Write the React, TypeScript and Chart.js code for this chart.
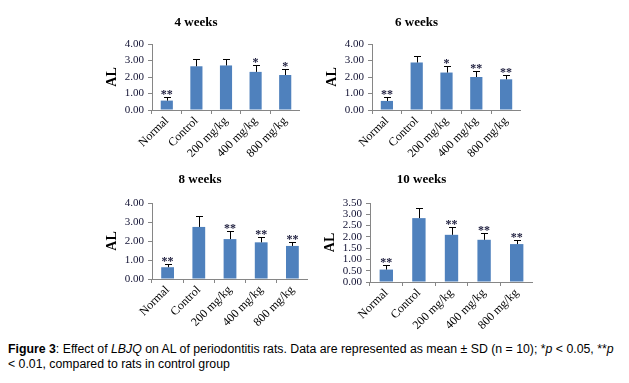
import React, { useEffect, useRef } from "react";
import { Chart, registerables } from "chart.js";

Chart.register(...registerables);

const categories = ["Normal", "Control", "200 mg/kg", "400 mg/kg", "800 mg/kg"];

const titles = ["4 weeks", "6 weeks", "8 weeks", "10 weeks"];

const means4 = [0.57, 2.65, 2.70, 2.31, 2.12];
const sd4 = [0.24, 0.46, 0.41, 0.40, 0.38];
const stars4 = ["**", "", "", "*", "*"];

const means6 = [0.55, 2.88, 2.27, 2.0, 1.86];
const sd6 = [0.22, 0.41, 0.38, 0.35, 0.27];
const stars6 = ["**", "", "*", "**", "**"];

const means8 = [0.62, 2.74, 2.1, 1.93, 1.74];
const sd8 = [0.16, 0.6, 0.44, 0.26, 0.23];
const stars8 = ["**", "", "**", "**", "**"];

const means10 = [0.55, 2.83, 2.09, 1.87, 1.68];
const sd10 = [0.2, 0.43, 0.33, 0.28, 0.18];
const stars10 = ["**", "", "**", "**", "**"];

const yTicksA = [0, 1, 2, 3, 4];
const yTicksB = [0, 0.5, 1, 1.5, 2, 2.5, 3, 3.5];
const yTicks = [yTicksA, yTicksA, yTicksA, yTicksB];

const caption1 = "Effect of ";
const captionDrug = "LBJQ";
const caption2 = " on AL of periodontitis rats. Data are represented as mean ± SD (n = 10); *";
const caption3 = " < 0.05, **";
const caption4 = "< 0.01, compared to rats in control group";

const SERIF = "'Liberation Serif', 'Times New Roman', serif";

type PanelGeom = { left: number; top: number; width: number; chartTop: number; chartBottom: number };

const geoms: PanelGeom[] = [
  { left: 92, top: 10, width: 208, chartTop: 44, chartBottom: 110 },
  { left: 312, top: 10, width: 209, chartTop: 44, chartBottom: 110 },
  { left: 92, top: 167, width: 216, chartTop: 203, chartBottom: 279 },
  { left: 310, top: 167, width: 223, chartTop: 203, chartBottom: 282 },
];

const Y_AXIS_W = 60;
const X_AXIS_H = 56;

const errorBarPlugin = {
  id: "errorBars",
  afterDatasetsDraw(chart: any) {
    const opts = chart.options.plugins.errorBars || {};
    const sds: number[] = opts.sd || [];
    const stars: string[] = opts.stars || [];
    const meta = chart.getDatasetMeta(0);
    const yScale = chart.scales.y;
    const ctx = chart.ctx;
    const data = chart.data.datasets[0].data as number[];
    ctx.save();
    meta.data.forEach((bar: any, i: number) => {
      const v = data[i];
      const yTop = yScale.getPixelForValue(v + sds[i]);
      const yBar = yScale.getPixelForValue(v);
      const x = Math.round(bar.x) + 0.5;
      ctx.strokeStyle = "#000";
      ctx.lineWidth = 1;
      ctx.beginPath();
      ctx.moveTo(x, yBar);
      ctx.lineTo(x, Math.round(yTop) + 0.5);
      ctx.moveTo(x - 3.5, Math.round(yTop) + 0.5);
      ctx.lineTo(x + 3.5, Math.round(yTop) + 0.5);
      ctx.stroke();
      if (stars[i]) {
        ctx.fillStyle = "#1c1c3c";
        ctx.font = "bold 12px " + SERIF;
        ctx.textAlign = "center";
        ctx.textBaseline = "alphabetic";
        ctx.fillText(stars[i], bar.x, yTop + 1);
      }
    });
    ctx.restore();
  },
};

function Panel({ idx, means, sd, stars }: { idx: number; means: number[]; sd: number[]; stars: string[] }) {
  const ref = useRef<HTMLCanvasElement>(null);
  const g = geoms[idx];
  const height = g.chartBottom - g.top + X_AXIS_H;
  useEffect(() => {
    if (!ref.current) return;
    const titleFont = 13;
    const titleLine = titleFont * 1.2;
    const chartTopInCanvas = g.chartTop - g.top;
    const padTop = 5;
    const padBottom = chartTopInCanvas - padTop - titleLine;
    const tickVals = yTicks[idx];
    const chart = new Chart(ref.current, {
      type: "bar",
      data: {
        labels: categories,
        datasets: [
          {
            data: means,
            backgroundColor: "#4F81BD",
            borderWidth: 0,
            barPercentage: 0.41,
            categoryPercentage: 1,
          },
        ],
      },
      options: {
        responsive: false,
        animation: false,
        layout: { padding: { left: 0, right: 0, top: 0, bottom: 0 } },
        plugins: {
          legend: { display: false },
          tooltip: { enabled: false },
          title: {
            display: true,
            text: titles[idx],
            color: "#000",
            font: { family: SERIF, size: titleFont, weight: "bold" },
            padding: { top: padTop, bottom: padBottom },
          },
          errorBars: { sd, stars },
        } as any,
        scales: {
          x: {
            offset: true,
            grid: {
              display: true,
              offset: true,
              drawOnChartArea: false,
              drawTicks: true,
              tickLength: 4,
              color: "#868686",
            },
            border: { display: true, color: "#868686" },
            ticks: {
              minRotation: 45,
              maxRotation: 45,
              autoSkip: false,
              padding: 0,
              color: "#000",
              font: { family: SERIF, size: 12 },
            },
            afterFit: (s: any) => {
              s.height = X_AXIS_H;
            },
          },
          y: {
            min: 0,
            max: tickVals[tickVals.length - 1],
            grid: {
              display: true,
              drawOnChartArea: false,
              drawTicks: true,
              tickLength: 4,
              color: "#868686",
            },
            border: { display: true, color: "#868686" },
            afterBuildTicks: (s: any) => {
              s.ticks = tickVals.map((v) => ({ value: v }));
            },
            ticks: {
              autoSkip: false,
              padding: 4,
              color: "#111133",
              font: { family: SERIF, size: 11 },
              callback: (v: any) => Number(v).toFixed(2),
            },
            title: {
              display: true,
              text: "AL",
              color: "#000",
              font: { family: SERIF, size: 14, weight: "bold" },
              padding: { top: 12, bottom: 0 },
            },
            afterFit: (s: any) => {
              s.width = Y_AXIS_W;
            },
          },
        },
      },
      plugins: [errorBarPlugin],
    });
    return () => chart.destroy();
  }, []);
  return (
    <canvas
      ref={ref}
      width={g.width}
      height={height}
      style={{ position: "absolute", left: g.left, top: g.top, width: g.width, height }}
    />
  );
}

export default function App() {
  return (
    <div
      style={{
        position: "fixed",
        left: 0,
        top: 0,
        width: 629,
        height: 383,
        background: "#fff",
        overflow: "hidden",
      }}
    >
      <Panel idx={0} means={means4} sd={sd4} stars={stars4} />
      <Panel idx={1} means={means6} sd={sd6} stars={stars6} />
      <Panel idx={2} means={means8} sd={sd8} stars={stars8} />
      <Panel idx={3} means={means10} sd={sd10} stars={stars10} />
      <div
        style={{
          position: "absolute",
          left: 8,
          top: 342,
          width: 621,
          fontFamily: "'Liberation Sans', Arial, sans-serif",
          fontSize: 12.3,
          lineHeight: "15px",
          color: "#000",
          whiteSpace: "nowrap",
        }}
      >
        <b>Figure 3</b>: {caption1}
        <i>{captionDrug}</i>
        {caption2}
        <i>p</i>
        {caption3}
        <i>p</i>
        <br />
        {caption4}
      </div>
    </div>
  );
}
